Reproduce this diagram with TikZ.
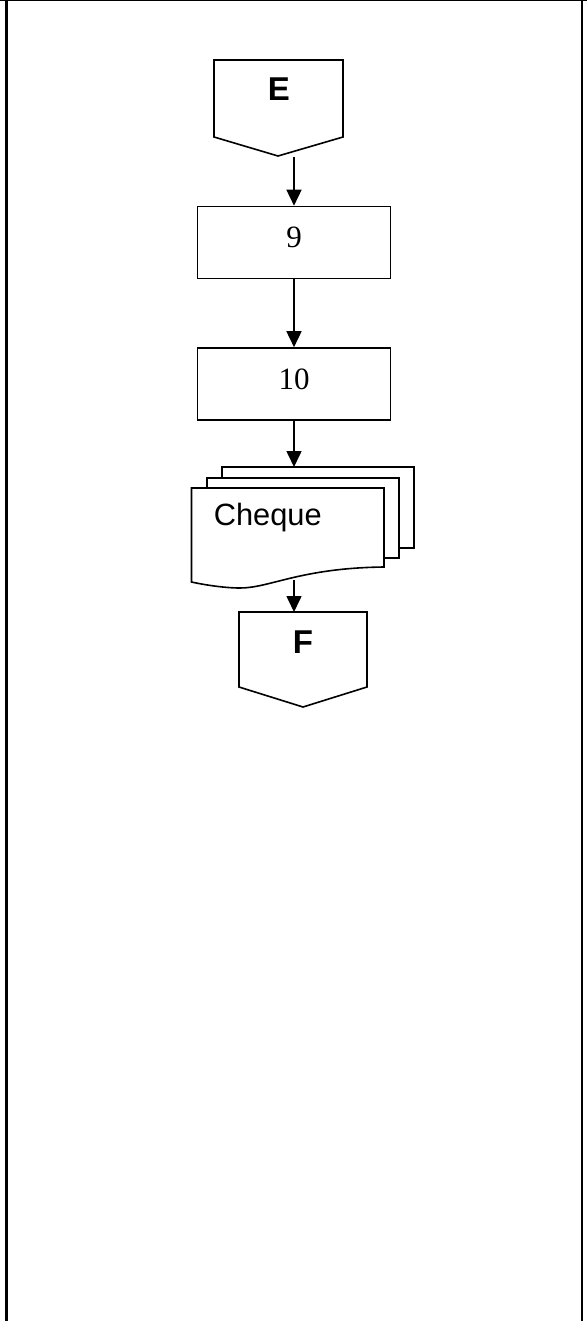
\documentclass[tikz,border=0pt]{standalone}
\usepackage{fontspec}
\setmainfont{Liberation Serif}
\newfontfamily\arialfont{Liberation Sans}
\usetikzlibrary{arrows.meta}

\begin{document}
\begin{tikzpicture}[x=0.5pt,y=-0.5pt,line width=0.8pt,
  box/.style={draw,minimum width=96.5pt,minimum height=36pt,text depth=5pt,font=\fontsize{15.5}{18}\selectfont},
  conn/.style={draw,fill=white},
  letter/.style={font=\arialfont\bfseries\fontsize{16.5}{20}\selectfont},
  >={Triangle[length=8pt,width=7.5pt]}]
\useasboundingbox (0,0) rectangle (587,1321);
% frame
\draw[line width=0.5pt] (0,0.5) -- (587,0.5);
\draw[line width=1.4pt] (6.5,0) -- (6.5,1321);
\draw[line width=1.4pt] (582,0) -- (582,1321);
% off-page connector E
\draw[conn] (214,60) -- (343,60) -- (343,137) -- (278,156) -- (214,137) -- cycle;
\node[letter] (E) at (279,89.5) {E};
\coordinate (Eout) at (294,157);
% processes
\node[box] (n9) at (294,242.5) {9};
\node[box] (n10) at (294,384) {10};
% cheque copies
\draw[conn] (222,467) rectangle (414,548);
\draw[conn] (207,478) rectangle (399,558);
\draw[conn] (191.5,488) -- (384,488) -- (384,567) .. controls (300,568) and (270,588) .. (240,588) .. controls (225,588) and (205,585) .. (191.5,582) -- cycle;
\node[font=\arialfont\fontsize{15.4}{18}\selectfont,anchor=base west,inner sep=0pt] (cheque) at (213,525) {Cheque};
\coordinate (docin) at (294,467);
\coordinate (docout) at (294,580);
% off-page connector F
\draw[conn] (239,612) -- (367,612) -- (367,687) -- (303,707) -- (239,687) -- cycle;
\node[letter] (F) at (303,641.7) {F};
\coordinate (Fin) at (294,612);
% arrows
\draw[->] (Eout) -- (n9.north);
\draw[->] (n9) -- (n10);
\draw[->] (n10) -- (docin);
\draw[->] (docout) -- (Fin);
\end{tikzpicture}
\end{document}
